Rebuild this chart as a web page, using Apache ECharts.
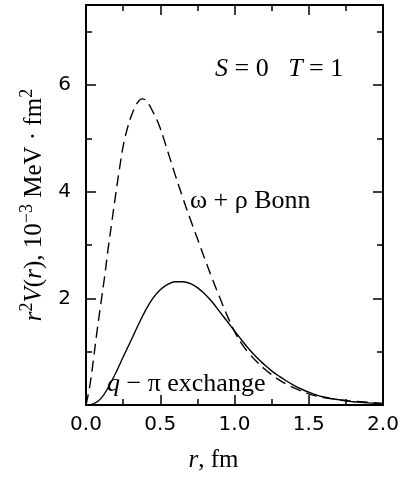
<!DOCTYPE html>
<html><head><meta charset="utf-8">
<script src="https://cdn.jsdelivr.net/npm/echarts@6/dist/echarts.min.js"></script>
<style>html,body{margin:0;padding:0;background:#fff}#c{width:403px;height:478px}</style>
</head><body><div id="c"></div>
<script>
// q - pi exchange (solid)
const rQpi = [0,0.05,0.1,0.15,0.2,0.25,0.3,0.35,0.4,0.45,0.5,0.55,0.6,0.65,0.7,0.75,0.8,0.85,0.9,0.95,1.0,1.05,1.1,1.15,1.2,1.25,1.3,1.35,1.4,1.45,1.5,1.55,1.6,1.65,1.7,1.75,1.8,1.85,1.9,1.95,2.0];
const vQpi = [0,0.02,0.12,0.33,0.6,0.9,1.19,1.49,1.77,2.0,2.16,2.26,2.31,2.31,2.28,2.2,2.08,1.93,1.75,1.57,1.39,1.21,1.04,0.89,0.76,0.64,0.54,0.45,0.37,0.3,0.24,0.19,0.15,0.12,0.1,0.08,0.06,0.05,0.04,0.03,0.02];
// omega + rho Bonn (dashed)
const rBonn = [0,0.025,0.05,0.075,0.1,0.125,0.15,0.175,0.2,0.225,0.25,0.275,0.3,0.325,0.35,0.375,0.4,0.425,0.45,0.475,0.5,0.525,0.55,0.6,0.65,0.7,0.75,0.8,0.85,0.9,0.95,1.0,1.05,1.1,1.15,1.2,1.25,1.3,1.35,1.4,1.45,1.5,1.55,1.6,1.65,1.7,1.75,1.8,1.85,1.9,1.95,2.0];
const vBonn = [0,0.35,0.85,1.4,1.9,2.4,2.95,3.45,3.95,4.42,4.85,5.15,5.38,5.56,5.68,5.74,5.72,5.63,5.5,5.36,5.19,4.98,4.76,4.32,3.9,3.5,3.12,2.74,2.37,2.02,1.68,1.38,1.14,0.96,0.81,0.68,0.57,0.47,0.39,0.32,0.26,0.21,0.17,0.14,0.12,0.1,0.085,0.07,0.06,0.05,0.04,0.03];
const xTickValues = [0,0.5,1,1.5,2];
const xTickLabels = ['0.0','0.5','1.0','1.5','2.0'];
const yTickValues = [2,4,6];
const yTickLabels = ['2','4','6'];

const SERIF = '"Liberation Serif", "Times New Roman", serif';
const SANS = '"DejaVu Sans", sans-serif';
const chart = echarts.init(document.getElementById('c'), null, {renderer:'canvas'});

function lbl(values, labels){
  return function(v){
    for (let i=0;i<values.length;i++){ if (Math.abs(values[i]-v)<1e-6) return labels[i]; }
    return '';
  };
}
const tickStyle = {color:'#000', width:1.5};
function xAx(pos, show){
  return {type:'value', min:0, max:2, interval:0.5, position:pos,
    axisLine:{show:true, onZero:false, lineStyle:{color:'#000', width:2}},
    axisTick:{show:true, inside:true, length:10, lineStyle:tickStyle},
    minorTick:{show:true, splitNumber:2, length:6, lineStyle:tickStyle},
    splitLine:{show:false}, minorSplitLine:{show:false},
    axisLabel:{show:show, formatter:lbl(xTickValues,xTickLabels), margin:10, fontFamily:SANS, fontSize:20, color:'#000'}
  };
}
function yAx(pos, interval, len, line, show){
  return {type:'value', min:0, max:7.5, interval:interval, position:pos,
    axisLine:{show:line, onZero:false, lineStyle:{color:'#000', width:2}},
    axisTick:{show:true, inside:true, length:len, lineStyle:tickStyle},
    splitLine:{show:false},
    axisLabel:{show:show, formatter:lbl(yTickValues,yTickLabels), margin:15, fontFamily:SANS, fontSize:20, color:'#000'}
  };
}
const xMain = xAx('bottom', true);
xMain.name = '{i|r}{n|, fm}';
xMain.nameLocation = 'middle';
xMain.nameGap = 43;
xMain.nameTextStyle = {padding:[0,42,0,0], rich:{
  i:{fontFamily:SERIF, fontSize:25, fontStyle:'italic', color:'#000'},
  n:{fontFamily:SERIF, fontSize:25, color:'#000'}}};
const yMain = yAx('left', 2, 10, true, true);
yMain.name = '{i|r}{s|2}{i|V}{n|(}{i|r}{n|), 10}{s|\u22123}{n| MeV \u00b7 fm}{s|2}';
yMain.nameLocation = 'middle';
yMain.nameRotate = 90;
yMain.nameGap = 36;
yMain.nameTextStyle = {rich:{
  i:{fontFamily:SERIF, fontSize:25, fontStyle:'italic', color:'#000', lineHeight:32},
  n:{fontFamily:SERIF, fontSize:25, color:'#000', lineHeight:32},
  s:{fontFamily:SERIF, fontSize:18, color:'#000', lineHeight:18, verticalAlign:'top'}}};

const option = {
  animation:false,
  backgroundColor:'#fff',
  grid:{left:86, right:20, top:5, bottom:73, containLabel:false},
  xAxis:[xMain, xAx('top', false)],
  yAxis:[yMain, yAx('left',1,6,false,false), yAx('right',2,10,true,false), yAx('right',1,6,false,false)],
  series:[
    {name:'q-\u03c0 exchange', type:'line', xAxisIndex:0, yAxisIndex:0, showSymbol:false, smooth:0.4,
     data:rQpi.map((r,i)=>[r,vQpi[i]]), lineStyle:{color:'#000', width:1.4}},
    {name:'\u03c9 + \u03c1 Bonn', type:'line', xAxisIndex:0, yAxisIndex:0, showSymbol:false, smooth:0.4,
     data:rBonn.map((r,i)=>[r,vBonn[i]]), lineStyle:{color:'#000', width:1.4, type:[11,6]}}
  ],
  graphic:[
    {type:'text', x:215, y:69, style:{text:'{i|S} = 0   {i|T} = 1', align:'left', verticalAlign:'middle',
      fontFamily:SERIF, fontSize:26, fill:'#000',
      rich:{i:{fontFamily:SERIF, fontSize:26, fontStyle:'italic', fill:'#000'}}}},
    {type:'text', x:190, y:201, style:{text:'\u03c9 + \u03c1 Bonn', align:'left', verticalAlign:'middle',
      fontFamily:SERIF, fontSize:26, fill:'#000'}},
    {type:'text', x:107, y:384, style:{text:'{i|q} \u2212 \u03c0 exchange', align:'left', verticalAlign:'middle',
      fontFamily:SERIF, fontSize:26, fill:'#000',
      rich:{i:{fontFamily:SERIF, fontSize:26, fontStyle:'italic', fill:'#000'}}}}
  ]
};
chart.setOption(option);
</script></body></html>
